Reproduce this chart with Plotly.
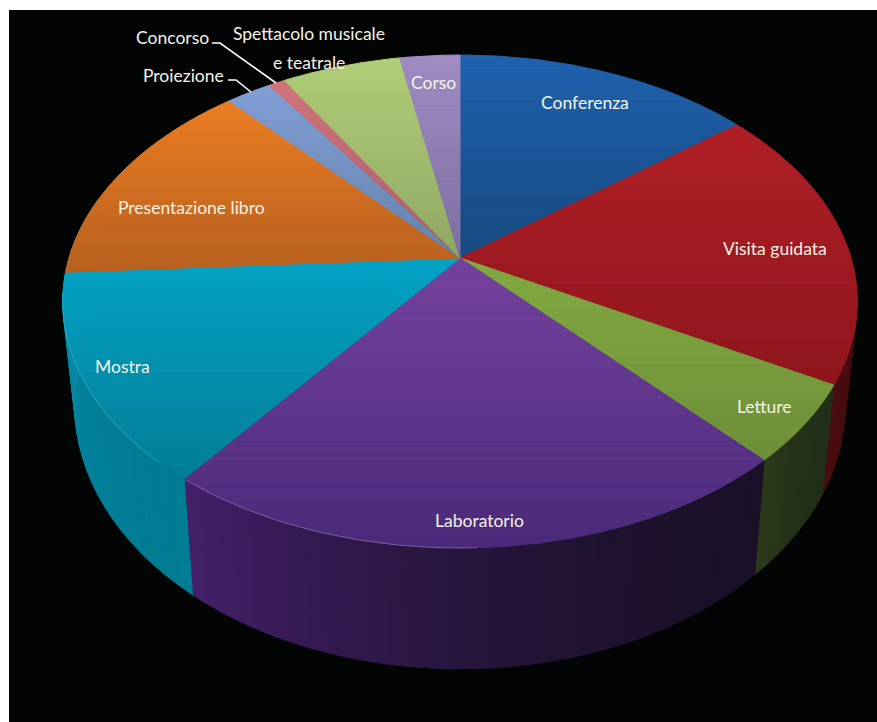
import numpy as np
import plotly.graph_objects as go

# --- data (percent shares, clockwise from 12 o'clock) ---
categories = ["Conferenza", "Visita guidata", "Letture", "Laboratorio", "Mostra",
              "Presentazione libro", "Proiezione", "Concorso",
              "Spettacolo musicale<br>e teatrale", "Corso"]
values = [14.4, 18.7, 5.1, 22.2, 13.7, 14.3, 2.2, 0.8, 5.75, 2.9]

# --- styles ---
top_light = ["#1f62ae", "#b01f26", "#82aa41", "#75439f", "#03a3c6",
             "#ea7d22", "#829fd6", "#d2757b", "#b0cd78", "#a08cc3"]
top_dark = ["#174a80", "#8f161c", "#6d8f38", "#4b2a7a", "#047d97",
            "#b8601f", "#6583ab", "#a85d68", "#8fa862", "#7e6ea0"]
side_left = ["#0a2440", "#4a0c10", "#2a3a1a", "#44206a", "#0a8aa8",
             "#0a8aa8", "#0a2440", "#0a2440", "#0a2440", "#0a2440"]
side_right = ["#0a1c30", "#3a0a0c", "#222e18", "#1a1028", "#007c93",
              "#0a8aa8", "#0a2440", "#0a2440", "#0a2440", "#0a2440"]
label_x = [585, 775, 764, 479, 122, 191, 183, 172, 309, 433]
label_y = [102, 248, 406, 520, 366, 207, 75, 37, 47.5, 82]
label_size = 17.5
line_gap = 29

# --- projection settings ---
CX, CY, A, B, K = 460, 258, 391, 238.8, 0.1765
BOT_S, BOT_C, BOT_B = 0.97, 358, 256


def hex2rgb(h):
    return np.array([int(h[i:i + 2], 16) for i in (1, 3, 5)], float)


def mix(c1, c2, t):
    c = hex2rgb(c1) * (1 - t) + hex2rgb(c2) * t
    return "rgb(%d,%d,%d)" % tuple(c.round())


def top_xy(theta):
    X, Y = np.sin(theta), np.cos(theta)
    w = 1 + K * Y
    return CX + A * X / w, CY - B * Y / w


def bottom_xy(theta):
    X, Y = np.sin(theta), np.cos(theta)
    w = 1 + K * Y
    return CX + BOT_S * A * X / w, BOT_C - BOT_B * Y / w


def clip_band(pts, y0, y1):
    def clip(poly, keep, cross):
        out = []
        for i in range(len(poly)):
            p, q = poly[i], poly[(i + 1) % len(poly)]
            kp, kq = keep(p), keep(q)
            if kp:
                out.append(p)
            if kp != kq:
                t = (cross - p[1]) / (q[1] - p[1])
                out.append((p[0] + t * (q[0] - p[0]), cross))
        return out
    poly = clip(pts, lambda p: p[1] >= y0, y0)
    if poly:
        poly = clip(poly, lambda p: p[1] <= y1, y1)
    return poly


def poly_trace(xs, ys, color):
    return go.Scatter(x=xs, y=ys, mode="lines", fill="toself", fillcolor=color,
                      line=dict(color=color, width=1), hoverinfo="skip", showlegend=False)


fig = go.Figure()
edges = np.radians(np.concatenate([[0], np.cumsum(values)]) / sum(values) * 360)

# side wall
for i in range(len(values)):
    a0, a1 = edges[i], edges[i + 1]
    lo, hi = max(a0, np.radians(70)), min(a1, np.radians(285))
    if hi <= lo:
        continue
    n = max(1, int(np.degrees(hi - lo) / 2.5))
    steps = np.linspace(lo, hi, n + 1)
    for j in range(n):
        t0, t1 = steps[j], steps[j + 1]
        tx0, ty0 = top_xy(np.linspace(t0, t1, 3))
        bx0, by0 = bottom_xy(np.linspace(t1, t0, 3))
        frac = ((j + 0.5) / n) ** 1.8
        col = mix(side_right[i], side_left[i], frac)
        fig.add_trace(poly_trace(list(tx0) + list(bx0) + [tx0[0]],
                                 list(ty0) + list(by0) + [ty0[0]], col))

# top face, vertical gradient per slice
for i in range(len(values)):
    th = np.linspace(edges[i], edges[i + 1], max(4, int(np.degrees(edges[i + 1] - edges[i]))))
    ax, ay = top_xy(th)
    pts = [(CX, CY)] + list(zip(ax, ay))
    ymin, ymax = min(p[1] for p in pts), max(p[1] for p in pts)
    nb = max(3, int((ymax - ymin) / 5))
    bands = np.linspace(ymin, ymax, nb + 1)
    for j in range(nb):
        poly = clip_band(pts, bands[j], bands[j + 1])
        if len(poly) < 3:
            continue
        col = mix(top_light[i], top_dark[i], (j + 0.5) / nb)
        fig.add_trace(poly_trace([p[0] for p in poly] + [poly[0][0]],
                                 [p[1] for p in poly] + [poly[0][1]], col))

# thin rim highlight on the front edge
th = np.linspace(np.radians(222), np.radians(262), 40)
rx, ry = top_xy(th)
fig.add_trace(go.Scatter(x=rx, y=ry, mode="lines", line=dict(color="#28a6c2", width=1),
                         hoverinfo="skip", showlegend=False))
th = np.linspace(np.radians(217), np.radians(178), 40)
rx, ry = top_xy(th)
fig.add_trace(go.Scatter(x=rx, y=ry, mode="lines", line=dict(color="#7a5aa0", width=1),
                         hoverinfo="skip", showlegend=False))

# leader lines
leader_x = [[212, 220, 276], [228, 236, 251]]
leader_y = [[43, 43, 83], [80, 80, 92]]
for lx, ly in zip(leader_x, leader_y):
    fig.add_trace(go.Scatter(x=lx, y=ly, mode="lines", line=dict(color="white", width=1.6),
                             hoverinfo="skip", showlegend=False))

for name, x, y in zip(categories, label_x, label_y):
    lines = name.split("<br>")
    for k, line in enumerate(lines):
        fig.add_annotation(x=x, y=y + (k - (len(lines) - 1) / 2) * line_gap, text=line,
                           showarrow=False, xanchor="center", yanchor="middle",
                           font=dict(family="Lato", size=label_size, color="#f4f3e6"))

fig.add_shape(type="rect", x0=9, y0=10, x1=877, y1=722, fillcolor="#030404",
              line_width=0, layer="below")
fig.update_layout(width=877, height=722, margin=dict(l=0, r=0, t=0, b=0),
                  paper_bgcolor="white", plot_bgcolor="white", showlegend=False,
                  xaxis=dict(range=[0, 877], visible=False, fixedrange=True),
                  yaxis=dict(range=[722, 0], visible=False, fixedrange=True))
fig.write_html("out.html", post_script="document.body.style.margin='0';",
               config={"displayModeBar": False})
